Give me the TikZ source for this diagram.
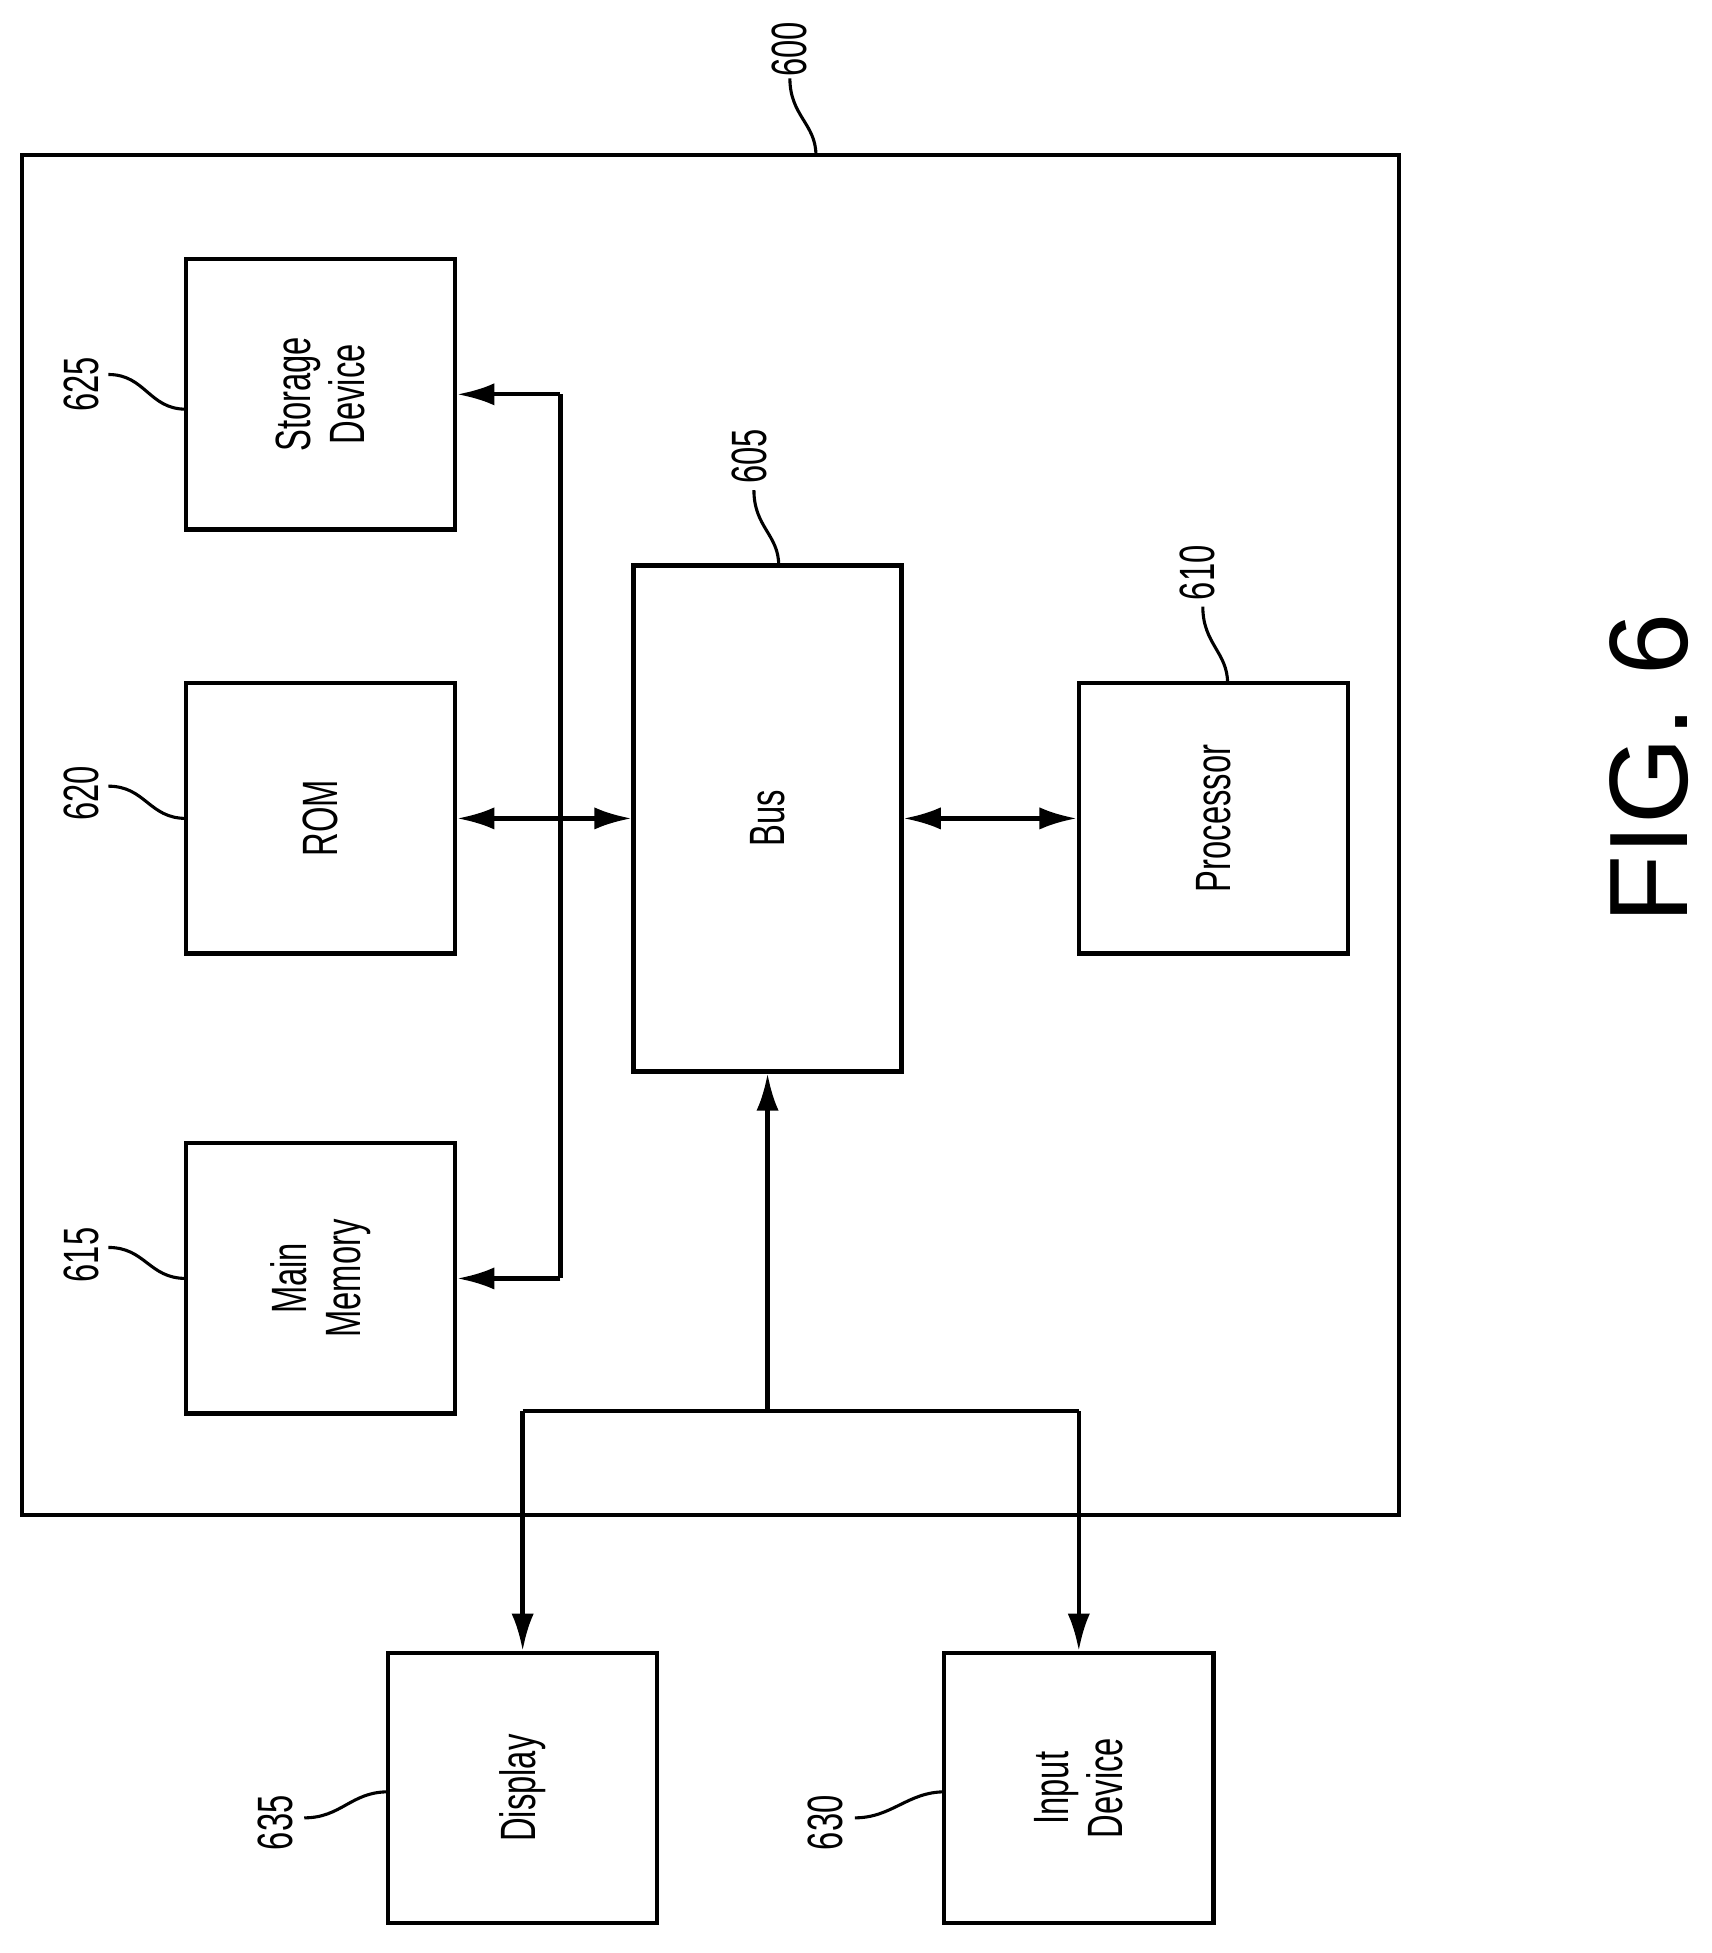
\documentclass[tikz,border=0pt]{standalone}
\usepackage{fontspec}
\setmainfont{Liberation Sans}
\newfontfamily\narrowfont{Liberation Sans}[FakeStretch=0.66]
\usetikzlibrary{arrows.meta,positioning}

\begin{document}
\begin{tikzpicture}
          [x=1pt, y=-1pt,
          block/.style={draw, line width=3.5pt, rotate=90, align=center, inner sep=0pt,
              font=\narrowfont\fontsize{40}{44}\selectfont},
          sq/.style={block, minimum width=218pt, minimum height=217pt},
          refnum/.style={rotate=90, inner sep=1pt, font=\narrowfont\fontsize{40}{40}\selectfont},
          lead/.style={draw, line width=2.5pt},
          line/.style={draw, line width=3.5pt, -{Latex[length=30pt,width=18pt]}},
          both/.style={draw, line width=3.5pt, {Latex[length=30pt,width=18pt]}-{Latex[length=30pt,width=18pt]}}]

          \useasboundingbox (0,0) rectangle (1380.6,1575);

          % outer system box
          \node [draw, line width=3.5pt, minimum width=1110pt, minimum height=1097pt, inner sep=0pt] (system) at (573,673.5) {};

          \node [sq] (storage) at (258.5,318) {Storage\\Device};
          \node [sq] (rom) at (258.5,660) {ROM};
          \node [sq] (mainmem) at (258.5,1031) {Main\\Memory};
          \node [block, minimum width=408pt, minimum height=216pt] (bus) at (619,660) {Bus};
          \node [sq] (processor) at (978.5,660) {Processor};
          \node [sq] (display) at (421.5,1442) {Display};
          \node [sq] (input) at (870,1442) {Input\\Device};

          \node [font=\fontsize{90}{90}\selectfont, rotate=90] (fig) at (1330,620) {FIG. 6};

          % reference numerals
          \node [refnum] (n600) at (637,40) {600};
          \node [refnum] (n625) at (66,310) {625};
          \node [refnum] (n620) at (66,640) {620};
          \node [refnum] (n615) at (66,1012) {615};
          \node [refnum] (n605) at (604,368) {605};
          \node [refnum] (n610) at (966,462) {610};
          \node [refnum] (n635) at (222,1470) {635};
          \node [refnum] (n630) at (666,1470) {630};

          \coordinate (c600) at (658,125);
          \coordinate (c625) at (150,330);
          \coordinate (c620) at (150,660);
          \coordinate (c615) at (150,1031);
          \coordinate (c605) at (628,456);
          \coordinate (c610) at (990,551);
          \coordinate (c635) at (313,1445);
          \coordinate (c630) at (762,1445);

          \path [lead] (n600.west) .. controls +(0,30) and +(0,-25) .. (c600);
          \path [lead] (n625.south) ++(6,-8) .. controls +(30,0) and +(-30,0) .. (c625);
          \path [lead] (n620.south) ++(6,-6) .. controls +(30,0) and +(-30,0) .. (c620);
          \path [lead] (n615.south) ++(6,-6) .. controls +(30,0) and +(-30,0) .. (c615);
          \path [lead] (n605.west) ++(4,4) .. controls +(0,30) and +(0,-25) .. (c605);
          \path [lead] (n610.west) ++(4,4) .. controls +(0,30) and +(0,-25) .. (c610);
          \path [lead] (n635.south) ++(8,-4) .. controls +(30,0) and +(-30,0) .. (c635);
          \path [lead] (n630.south) ++(8,-4) .. controls +(30,0) and +(-30,0) .. (c630);

          % connections
          \coordinate (mtop) at (452,318);
          \coordinate (mbot) at (452,1031);
          \coordinate (hub) at (619,1138);
          \coordinate (hleft) at (421.5,1138);
          \coordinate (hright) at (870,1138);
          \path [draw, line width=3.5pt] (mtop) -- (mbot);
          \path [line] (mtop) -- (storage);
          \path [line] (mbot) -- (mainmem);
          \path [both] (rom) -- (bus);
          \path [both] (bus) -- (processor);
          \path [line] (hub) -- (bus);
          \path [draw, line width=3.5pt] (hleft) -- (hright);
          \path [line] (hleft) -- (display);
          \path [line] (hright) -- (input);
\end{tikzpicture}
\end{document}
